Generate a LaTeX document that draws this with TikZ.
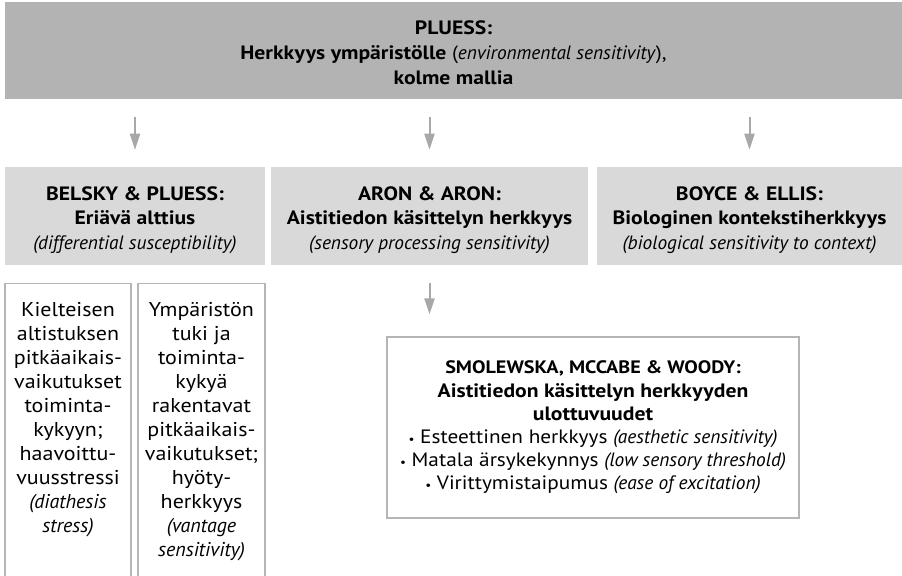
\documentclass[tikz,border=0pt]{standalone}
\usepackage{fontspec}
\setmainfont{PT Sans}[UprightFeatures={FakeStretch=1.1}, BoldFeatures={FakeStretch=1.12}]
\usetikzlibrary{arrows.meta}
\definecolor{topgray}{HTML}{B3B3B3}
\definecolor{midgray}{HTML}{D9D9D9}
\definecolor{arrowgray}{HTML}{A8A8A8}
\definecolor{linegray}{HTML}{B5B5B5}
\newcommand{\lowerby}[1]{\rule{0pt}{#1}}

\tikzset{
  modelbox/.style={fill=midgray, minimum height=73.5pt, align=center, inner sep=0pt,
        font=\fontsize{14.5}{18.2}\selectfont},
  notebox/.style={draw=linegray, line width=0.9pt, fill=white, align=center, inner sep=0pt},
  notetext/.style={align=center, inner sep=0pt, anchor=north, font=\fontsize{15}{18}\selectfont},
  flowarrow/.style={draw=arrowgray, line width=1.5pt, -{Triangle[width=7.5pt,length=12pt]}},
}

\begin{document}
\begin{tikzpicture}[x=0.75pt, y=-0.75pt, font=\fontsize{14.5}{17.4}\selectfont]
                \useasboundingbox (0,0) rectangle (902,575);
                \clip (0,0) rectangle (902,575);
                % top level
                \node[fill=topgray, minimum width=672.75pt, minimum height=72.75pt, align=center, inner sep=0pt,
                        font=\fontsize{14.5}{18.8}\selectfont] (pluess) at (453.5,50.5)
                        {\lowerby{14pt}\textbf{PLUESS:}\\ \textbf{Herkkyys ympäristölle} (\textit{environmental sensitivity}),\\ \textbf{kolme mallia}};
                % three models
                \node[modelbox, minimum width=195pt] (belsky) at (135,216)
                        {\lowerby{16.5pt}\textbf{BELSKY \& PLUESS:}\\ \textbf{Eriävä alttius}\\ \textit{(differential susceptibility)}};
                \node[modelbox, minimum width=237.75pt] (aron) at (429.5,216)
                        {\lowerby{16.5pt}\textbf{ARON \& ARON:}\\ \textbf{Aistitiedon käsittelyn herkkyys}\\ \textit{(sensory processing sensitivity)}};
                \node[modelbox, minimum width=228.75pt] (boyce) at (749.5,216)
                        {\lowerby{16.5pt}\textbf{BOYCE \& ELLIS:}\\ \textbf{Biologinen kontekstiherkkyys}\\ \textit{(biological sensitivity to context)}};
                % belsky & pluess, two columns
                \node[notebox, minimum width=94.5pt, minimum height=232pt, anchor=north] (kielt) at (68,283) {};
                \node[notebox, minimum width=95.25pt, minimum height=232pt, anchor=north] (tuki) at (201.5,283) {};
                \node[notetext] (kielttext) at ([yshift=-14.5pt]kielt.north)
                        {Kielteisen\\ altistuksen\\ pitkäaikais-\\ vaikutukset\\ toiminta-\\ kykyyn;\\ haavoittu-\\ vuusstressi\\ \textit{(diathesis}\\ \textit{stress)}};
                \node[notetext] (tukitext) at ([yshift=-14.5pt]tuki.north)
                        {Ympäristön\\ tuki ja\\ toiminta-\\ kykyä\\ rakentavat\\ pitkäaikais-\\ vaikutukset;\\ hyöty-\\ herkkyys\\ \textit{(vantage}\\ \textit{sensitivity)}};
                % aron & aron, dimensions
                \node[notebox, minimum width=309pt, minimum height=135.75pt] (smol) at (593,427.5)
                        {{\fontsize{13.5}{17.4}\selectfont\textbf{SMOLEWSKA, MCCABE \& WOODY:}}\\ \textbf{Aistitiedon käsittelyn herkkyyden}\\ \textbf{ulottuvuudet}\\
                        {\small•} Esteettinen herkkyys \textit{(aesthetic sensitivity)}\\
                        {\small•} Matala ärsykekynnys \textit{(low sensory threshold)}\\
                        {\small•} Virittymistaipumus \textit{(ease of excitation)}};
                % arrows
                \foreach \m in {belsky, aron, boyce} {
                        \draw[flowarrow, shorten <=13.5pt, shorten >=12.75pt] (pluess.south -| \m.north) -- (\m.north);
                    }
                \draw[flowarrow, shorten <=13.5pt, shorten >=16.5pt] (aron.south) -- (aron.south |- smol.north);
            \end{tikzpicture}
\end{document}
